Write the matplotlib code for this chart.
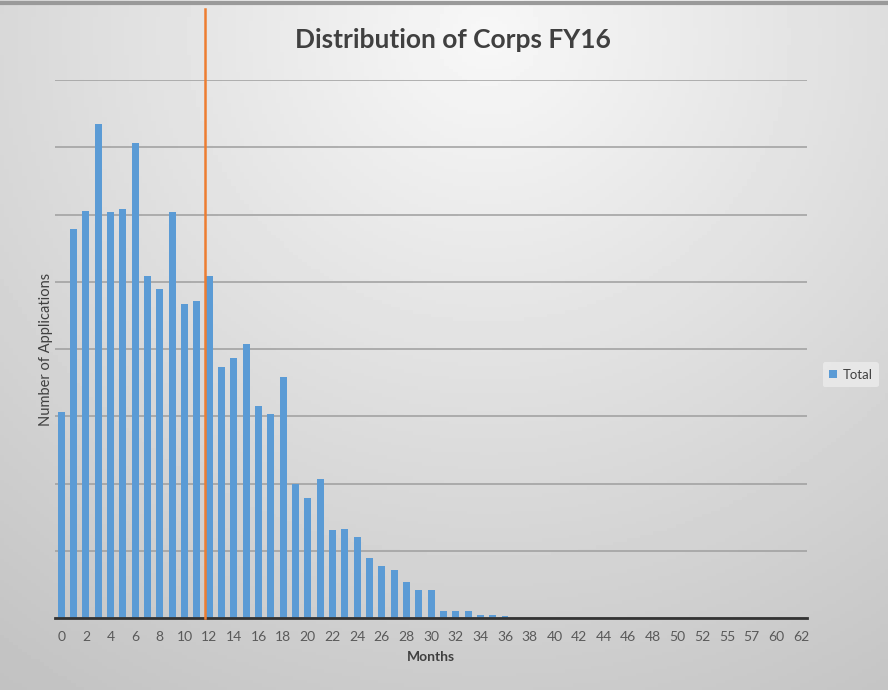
import matplotlib
matplotlib.use("Agg")
import matplotlib.pyplot as plt
import numpy as np

# months on the x axis (category axis, some months missing at the end)
months = list(range(53)) + [54, 55, 56, 57, 59, 60, 61, 62]
# number of applications per month (no y labels shown)
totals = [307, 578, 606, 734, 604, 608, 707, 509, 489, 604,
          467, 471, 509, 374, 386, 407, 315, 303, 359, 200,
          179, 206, 131, 133, 120, 89, 78, 72, 53, 41,
          42, 11, 10, 10, 5, 4, 3] + [0] * 24
cutoff = 11.7   # position of the orange marker line (category index)

plt.rcParams['font.family'] = ['Lato', 'DejaVu Sans']

fig = plt.figure(figsize=(8.88, 6.90), dpi=100)

# slide-like gray gradient background
bg = fig.add_axes([0, 0, 1, 1], zorder=-10)
yy, xx = np.mgrid[0:1:200j, 0:1:200j]
r = np.sqrt(((xx - 0.55) / 0.9) ** 2 + ((yy - 0.05) / 1.1) ** 2)
bg.imshow(0.97 - 0.2 * r, cmap='gray', vmin=0, vmax=1, aspect='auto',
          extent=[0, 1, 1, 0])
bg.plot([0, 1], [0.996, 0.996], color='#9a9a9a', lw=3, transform=bg.transAxes)
bg.axis('off')

ax = fig.add_axes([0.062, 0.1043, 0.847, 0.7797])
ax.patch.set_alpha(0)

x = np.arange(len(months))
ax.bar(x, totals, width=0.55, color='#5B9BD5', label='Total', zorder=3)

ax.set_xlim(-0.5, len(months) - 0.5)
ax.set_ylim(0, 800)
ax.set_yticks(np.arange(0, 801, 100))
ax.set_yticklabels([])
ax.tick_params(axis='y', length=0)
ax.grid(axis='y', color='#9e9e9e', lw=1.1, zorder=0)

ax.set_xticks(x[::2])
ax.set_xticklabels([str(m) for m in months[::2]], fontsize=10, color='#595959')
ax.tick_params(axis='x', length=0, pad=9)

for s in ['top', 'right', 'left']:
    ax.spines[s].set_visible(False)
ax.spines['bottom'].set_color('#333333')
ax.spines['bottom'].set_linewidth(2)
ax.spines['bottom'].set_zorder(4)

# orange marker line, runs up past the plot area
ax.plot([cutoff, cutoff], [0, 906], color='#ED7D31', lw=1.8, clip_on=False, zorder=5)

ax.set_xlabel('Months', fontsize=10, color='#404040', fontweight='bold', labelpad=6)
ax.set_ylabel('Number of Applications', fontsize=10.5, color='#404040', labelpad=-2)

fig.text(0.51, 0.942, 'Distribution of Corps FY16', ha='center', va='center',
         fontsize=19, fontweight='bold', color='#404040')

leg = ax.legend(loc='center', bbox_to_anchor=(0.958, 0.457),
                bbox_transform=fig.transFigure, frameon=True, fontsize=9.5,
                handlelength=0.6, handleheight=0.6, handletextpad=0.4,
                borderpad=0.5)
leg.get_frame().set_facecolor('#ececec')
leg.get_frame().set_edgecolor('none')
leg.get_frame().set_alpha(0.8)
for t in leg.get_texts():
    t.set_color('#404040')

fig.savefig('out.png', dpi=100)
